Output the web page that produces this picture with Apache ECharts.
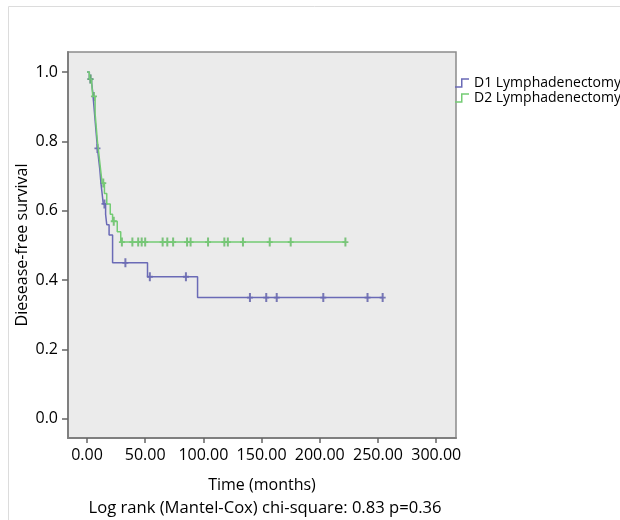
<!DOCTYPE html>
<html>
<head>
<meta charset="utf-8">
<script src="https://cdn.jsdelivr.net/npm/echarts@6/dist/echarts.min.js"></script>
<style>
html,body{margin:0;padding:0;background:#fff;}
#main{width:620px;height:520px;}
</style>
</head>
<body>
<div id="main"></div>
<script>
// D1 lymphadenectomy: event times (months) and survival after each event
var d1Time = [0, 2, 4, 5, 6, 7, 8, 9, 10, 11, 12, 13, 14, 16, 17, 19, 22, 52, 95];
var d1Surv = [1.0, 0.98, 0.97, 0.94, 0.90, 0.86, 0.82, 0.78, 0.75, 0.72, 0.68, 0.65, 0.62, 0.59, 0.56, 0.53, 0.45, 0.41, 0.35];
var d1Censor = [3, 9, 15, 33, 54, 85, 140, 154, 163, 203, 241, 254];

// D2 lymphadenectomy
var d2Time = [0, 2, 4, 5, 7, 8, 9, 10, 11, 12, 13, 15, 17, 20, 22, 26, 29];
var d2Surv = [1.0, 0.98, 0.97, 0.93, 0.88, 0.84, 0.80, 0.77, 0.74, 0.71, 0.68, 0.65, 0.62, 0.59, 0.57, 0.54, 0.51];
var d2Censor = [3, 6, 14, 23, 30, 39, 44, 47, 50, 65, 69, 74, 86, 89, 104, 118, 121, 134, 157, 175, 222];

var xTicks = [0, 50, 100, 150, 200, 250, 300];
var yTicks = [0, 0.2, 0.4, 0.6, 0.8, 1.0];

var seriesNames = ['D1 Lymphadenectomy', 'D2 Lymphadenectomy'];
var colors = ['#6a6ab6', '#74cc74'];

function survAt(times, surv, t){
	var s = surv[0];
	for (var i = 0; i < times.length; i++) {
		if (times[i] <= t) s = surv[i];
	}
	return s;
}

function stepData(times, surv, censor){
	var d = [];
	for (var i = 0; i < times.length; i++) d.push([times[i], surv[i]]);
	var last = censor[censor.length - 1];
	d.push([last, survAt(times, surv, last)]);
	return d;
}

function censorData(times, surv, censor){
	var d = [];
	for (var i = 0; i < censor.length; i++) d.push([censor[i], survAt(times, surv, censor[i])]);
	return d;
}

var font = 'Open Sans';
var censorSymbol = 'path://M2,0h2v10h-2z M0,4h6v2h-6z';
var stepIcon = 'path://M0,9h6v-8h8v1.5h-6.5v8h-7.5z';

var option = {
	backgroundColor: '#fff',
	animation: false,
	textStyle: { fontFamily: font },
	grid: {
		left: 68, top: 52, width: 388, height: 386,
		show: true,
		backgroundColor: '#ebebeb',
		borderColor: '#8c8c8c',
		borderWidth: 1.5
	},
	legend: {
		orient: 'vertical',
		left: 455, top: 76,
		padding: 0,
		itemWidth: 14, itemHeight: 10, itemGap: 1,
		data: [
			{ name: seriesNames[0], icon: stepIcon },
			{ name: seriesNames[1], icon: stepIcon }
		],
		textStyle: { fontFamily: font, fontSize: 14, color: '#000' }
	},
	graphic: [
		{ type: 'rect', shape: { x: 8.5, y: 6.5, width: 700, height: 600 }, style: { fill: 'none', stroke: '#dcdcdc', lineWidth: 1 }, silent: true },
		{ type: 'text', x: 265, y: 508, style: { text: 'Log rank (Mantel-Cox) chi-square: 0.83 p=0.36', font: '16.6px "Open Sans"', fill: '#000', align: 'center', verticalAlign: 'middle' } }
	],
	xAxis: {
		type: 'value',
		min: -16.3, max: 317,
		name: 'Time (months)',
		nameLocation: 'middle',
		nameGap: 39,
		nameMoveOverlap: false,
		nameTextStyle: { fontFamily: font, fontSize: 16, color: '#000' },
		axisLine: { show: true, onZero: false, lineStyle: { color: '#7f7f7f', width: 2 } },
		axisTick: { show: true, length: 5, customValues: xTicks, lineStyle: { color: '#666', width: 1.5 } },
		axisLabel: { customValues: xTicks, margin: 9, fontFamily: font, fontSize: 16, color: '#000',
			formatter: function(v){ return v.toFixed(2); } },
		splitLine: { show: false }
	},
	yAxis: {
		type: 'value',
		min: -0.055, max: 1.058,
		name: 'Diesease-free survival',
		nameLocation: 'middle',
		nameGap: 38,
		nameMoveOverlap: false,
		nameTextStyle: { fontFamily: font, fontSize: 16, color: '#000' },
		axisLine: { show: true, onZero: false, lineStyle: { color: '#7f7f7f', width: 2 } },
		axisTick: { show: true, length: 6, customValues: yTicks, lineStyle: { color: '#666', width: 1.5 } },
		axisLabel: { customValues: yTicks, margin: 10, fontFamily: font, fontSize: 16, color: '#000',
			formatter: function(v){ return v.toFixed(1); } },
		splitLine: { show: false }
	},
	series: [
		{
			name: seriesNames[0], type: 'line', step: 'end', showSymbol: false, symbol: 'none',
			data: stepData(d1Time, d1Surv, d1Censor),
			lineStyle: { color: colors[0], width: 1.5 }, itemStyle: { color: colors[0] }
		},
		{
			name: seriesNames[1], type: 'line', step: 'end', showSymbol: false, symbol: 'none',
			data: stepData(d2Time, d2Surv, d2Censor),
			lineStyle: { color: colors[1], width: 1.5 }, itemStyle: { color: colors[1] }
		},
		{
			name: seriesNames[0], type: 'scatter', symbol: censorSymbol, symbolSize: [6, 9],
			data: censorData(d1Time, d1Surv, d1Censor),
			itemStyle: { color: '#5a5aa6' }
		},
		{
			name: seriesNames[1], type: 'scatter', symbol: censorSymbol, symbolSize: [6, 9],
			data: censorData(d2Time, d2Surv, d2Censor),
			itemStyle: { color: '#5fb85f' }
		}
	]
};

var myChart = echarts.init(document.getElementById('main'));
myChart.setOption(option);
</script>
</body>
</html>
